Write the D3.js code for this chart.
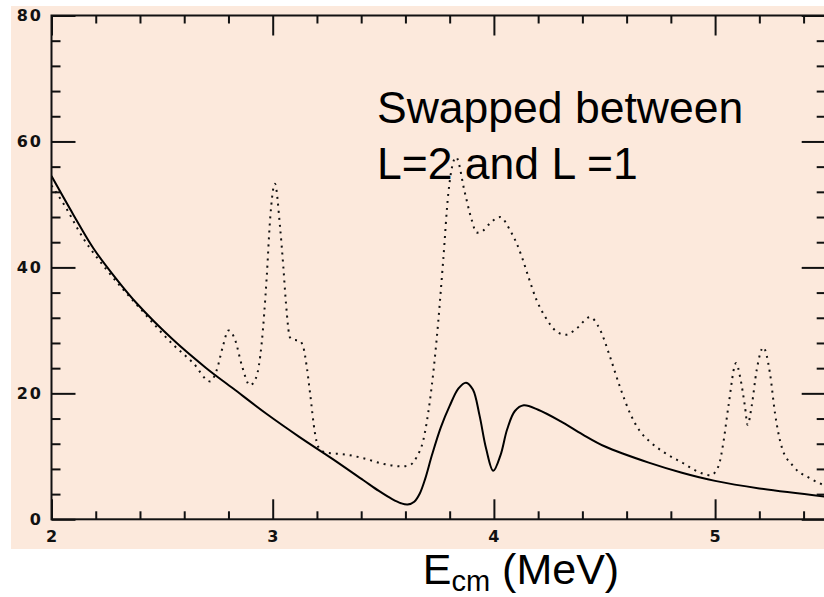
<!DOCTYPE html>
<html>
<head>
<meta charset="utf-8">
<script src="https://cdn.jsdelivr.net/npm/d3@7"></script>
<style>
  html, body { margin: 0; padding: 0; background: #ffffff; }
  svg { display: block; }
</style>
</head>
<body>
<svg id="chart" width="824" height="597"></svg>
<script>
// Cross-section vs. centre-of-mass energy: two calculations
const energyTicks = [2, 3, 4, 5];
const yTicks = [0, 20, 40, 60, 80];

// Solid curve
const solidE = [2.0, 2.1, 2.19, 2.29, 2.385, 2.55, 2.7, 2.82, 2.97, 3.12, 3.27, 3.41,
  3.48, 3.54, 3.58, 3.61, 3.64, 3.665, 3.69, 3.72, 3.76, 3.8, 3.84, 3.874, 3.905, 3.935,
  3.965, 3.997, 4.03, 4.06, 4.095, 4.135, 4.2, 4.3, 4.4, 4.5, 4.7, 4.85, 5.0, 5.2, 5.5];
const solidY = [54.5, 48.3, 43.0, 38.3, 34.3, 28.5, 24.0, 20.8, 16.8, 13.1, 9.6, 6.2,
  4.5, 3.2, 2.55, 2.35, 2.8, 4.1, 6.5, 10.2, 14.6, 18.0, 20.8, 21.7, 20.6, 16.5,
  11.2, 7.7, 10.2, 14.3, 17.2, 18.1, 17.4, 15.6, 13.5, 11.6, 9.0, 7.4, 6.1, 4.9, 3.6];

// Dotted curve
const dottedE = [2.0, 2.053, 2.144, 2.25, 2.4, 2.551, 2.641, 2.717, 2.747, 2.775, 2.8,
  2.83, 2.86, 2.897, 2.925, 2.95, 2.973, 2.988, 3.01, 3.033, 3.048, 3.06, 3.078, 3.095,
  3.12, 3.138, 3.154, 3.169, 3.191, 3.206, 3.24, 3.327, 3.41, 3.5, 3.583, 3.62, 3.651,
  3.681, 3.711, 3.741, 3.771, 3.794, 3.829, 3.869, 3.9, 3.922, 3.95, 3.982, 4.028,
  4.073, 4.103, 4.126, 4.156, 4.193, 4.231, 4.284, 4.325, 4.374, 4.434, 4.48, 4.525,
  4.57, 4.62, 4.66, 4.706, 4.766, 4.856, 4.92, 4.98, 5.015, 5.037, 5.06, 5.095, 5.113,
  5.135, 5.147, 5.165, 5.188, 5.218, 5.248, 5.271, 5.301, 5.354, 5.429, 5.5];
const dottedY = [53.0, 50.2, 44.6, 39.6, 33.5, 27.7, 24.8, 21.9, 23.7, 27.5, 30.0,
  28.5, 24.5, 21.3, 22.5, 27.9, 38.5, 47.5, 53.3, 46.5, 40.1, 34.3, 28.9, 28.5,
  28.4, 27.4, 24.2, 20.0, 13.7, 11.5, 10.6, 10.3, 9.7, 8.8, 8.4, 8.6, 9.9,
  12.6, 18.9, 28.5, 41.2, 51.8, 57.5, 51.8, 47.5, 45.5, 45.8, 47.0, 48.0,
  45.9, 43.8, 41.7, 38.5, 34.8, 32.2, 29.8, 29.3, 30.3, 32.1, 30.1, 25.8,
  21.0, 16.5, 14.0, 12.3, 10.7, 8.9, 7.6, 7.0, 8.4, 12.1, 17.9, 24.8, 22.6,
  17.9, 15.0, 17.9, 23.7, 27.3, 23.2, 16.8, 11.5, 8.4, 6.5, 5.3];

const noteLines = ["Swapped between", "L=2 and L =1"];

const svg = d3.select("#chart");
const plot = { left: 51.5, top: 15.5, right: 825.7, bottom: 519.3 };

// panel background
svg.append("rect")
  .attr("x", 11).attr("y", 6)
  .attr("width", 824 - 11).attr("height", 549 - 6)
  .attr("fill", "#fce9dc");

const x = d3.scaleLinear().domain([2, 5.5]).range([plot.left, plot.right]);
const y = d3.scaleLinear().domain([0, 80]).range([plot.bottom, plot.top]);

svg.append("clipPath").attr("id", "clip")
  .append("rect")
  .attr("x", plot.left).attr("y", plot.top)
  .attr("width", plot.right - plot.left).attr("height", plot.bottom - plot.top);

const dottedLine = d3.line()
  .x(d => x(d[0])).y(d => y(d[1]))
  .curve(d3.curveMonotoneX);
const solidLine = d3.line()
  .x(d => x(d[0])).y(d => y(d[1]))
  .curve(d3.curveCatmullRom.alpha(0.5));

const curves = svg.append("g").attr("clip-path", "url(#clip)");

curves.append("path")
  .datum(dottedE.map((e, i) => [e, dottedY[i]]))
  .attr("d", dottedLine)
  .attr("fill", "none")
  .attr("stroke", "#111")
  .attr("stroke-width", 2)
  .attr("stroke-dasharray", "2,5");

curves.append("path")
  .datum(solidE.map((e, i) => [e, solidY[i]]))
  .attr("d", solidLine)
  .attr("fill", "none")
  .attr("stroke", "#000")
  .attr("stroke-width", 2);

// Frame with inward ticks on all four sides
const axisStroke = "#111";
const minorX = d3.range(2, 5.5001, 0.2).filter(v => Math.abs(v - Math.round(v)) > 1e-6);
const minorY = d3.range(0, 80.001, 4).filter(v => v % 20 !== 0);

const frame = svg.append("g");

function styleAxis(g) {
  g.select(".domain").remove();
  g.selectAll(".tick line").attr("stroke", axisStroke).attr("stroke-width", 2);
  g.selectAll(".tick text").remove();
}

// bottom major + minor
frame.append("g").attr("transform", `translate(0,${plot.bottom})`)
  .call(d3.axisTop(x).tickValues(energyTicks).tickSize(20)).call(styleAxis);
frame.append("g").attr("transform", `translate(0,${plot.bottom})`)
  .call(d3.axisTop(x).tickValues(minorX).tickSize(8)).call(styleAxis);
// top
frame.append("g").attr("transform", `translate(0,${plot.top})`)
  .call(d3.axisBottom(x).tickValues(energyTicks).tickSize(20)).call(styleAxis);
frame.append("g").attr("transform", `translate(0,${plot.top})`)
  .call(d3.axisBottom(x).tickValues(minorX).tickSize(8)).call(styleAxis);
// left
frame.append("g").attr("transform", `translate(${plot.left},0)`)
  .call(d3.axisRight(y).tickValues(yTicks).tickSize(24)).call(styleAxis);
frame.append("g").attr("transform", `translate(${plot.left},0)`)
  .call(d3.axisRight(y).tickValues(minorY).tickSize(9)).call(styleAxis);
// right
frame.append("g").attr("transform", `translate(${plot.right},0)`)
  .call(d3.axisLeft(y).tickValues(yTicks).tickSize(24)).call(styleAxis);
frame.append("g").attr("transform", `translate(${plot.right},0)`)
  .call(d3.axisLeft(y).tickValues(minorY).tickSize(9)).call(styleAxis);

frame.append("rect")
  .attr("x", plot.left).attr("y", plot.top)
  .attr("width", plot.right - plot.left).attr("height", plot.bottom - plot.top)
  .attr("fill", "none").attr("stroke", axisStroke).attr("stroke-width", 2);

// tick labels
const tickFont = "'DejaVu Sans', sans-serif";
svg.append("g").selectAll("text").data(yTicks).join("text")
  .attr("x", 43).attr("y", d => y(d))
  .attr("dy", "0.36em")
  .attr("text-anchor", "end")
  .attr("font-family", tickFont).attr("font-weight", "bold")
  .attr("font-size", 16).attr("letter-spacing", 2)
  .attr("fill", "#111")
  .text(d => d);

svg.append("g").selectAll("text").data(energyTicks).join("text")
  .attr("x", d => x(d)).attr("y", 542)
  .attr("text-anchor", "middle")
  .attr("font-family", tickFont).attr("font-weight", "bold")
  .attr("font-size", 16)
  .attr("fill", "#111")
  .text(d => d);

// annotation
svg.append("g").selectAll("text").data(noteLines).join("text")
  .attr("x", 377).attr("y", (d, i) => 122.7 + i * 56.6)
  .attr("font-family", "'Liberation Sans', Arial, sans-serif")
  .attr("font-size", 44.5)
  .attr("fill", "#000")
  .text(d => d);

// x-axis title with subscript
const title = svg.append("text")
  .attr("x", 521).attr("y", 584)
  .attr("text-anchor", "middle")
  .attr("font-family", "'Liberation Sans', Arial, sans-serif")
  .attr("font-size", 43)
  .attr("fill", "#000");
title.append("tspan").text("E");
title.append("tspan").attr("font-size", 29).attr("dy", 7).text("cm");
title.append("tspan").attr("dy", -7).text(" (MeV)");
</script>
</body>
</html>
